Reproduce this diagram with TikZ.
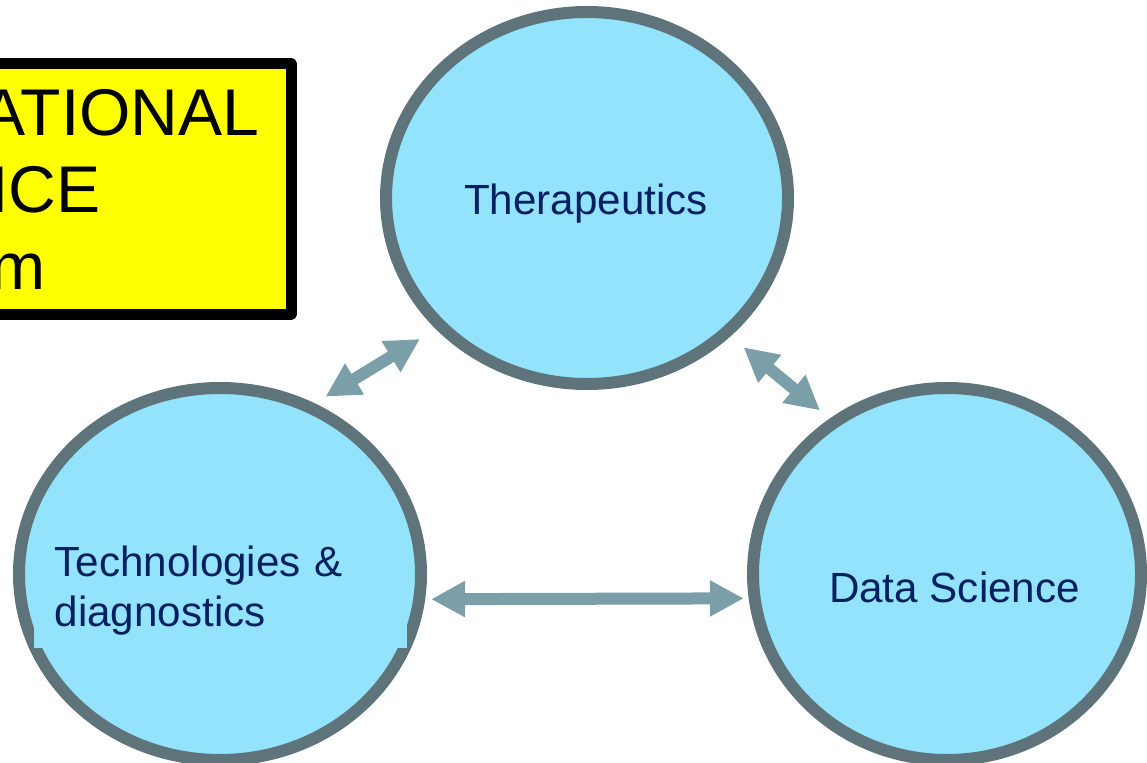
\documentclass[tikz,border=0pt]{standalone}
\usepackage{fontspec}
\setmainfont{Liberation Sans}
\usetikzlibrary{arrows.meta, shapes.geometric}
\definecolor{hubfill}{RGB}{148,227,252}
\definecolor{hubline}{RGB}{94,116,122}
\definecolor{linkcol}{RGB}{123,159,168}
\definecolor{navytext}{RGB}{0,32,96}
\definecolor{bannerfill}{RGB}{255,255,0}

\begin{document}
\begin{tikzpicture}
      \tikzset{hub/.style = {shape=ellipse,draw=hubline,fill=hubfill,line width=0.12cm,inner sep=0pt,minimum height=3.72cm}}
      \tikzset{hubtext/.style = {text=navytext,font=\fontsize{12pt}{14.2pt}\selectfont,inner sep=0pt}}
      \tikzset{link/.style = {{Triangle[length=0.34cm,width=0.34cm]}-{Triangle[length=0.34cm,width=0.34cm]},draw=linkcol,line width=0.12cm}}
      \tikzset{banner/.style = {font=\fontsize{18.8pt}{21.9pt}\selectfont,inner sep=0pt,anchor=base east}}
      \useasboundingbox (0,0) rectangle (11.47,-7.63);

      % banner, cut at the left edge
      \draw[line width=0.11cm,line join=round,fill=bannerfill] (-0.3,-0.635) rectangle (2.91,-3.145);
      \node[banner] (b1) at (2.60,-1.36) {ATIONAL};
      \node[banner] (b2) at (1.01,-2.13) {NCE};
      \node[banner] (b3) at (0.46,-2.90) {m};

      \node[hub,minimum width=4.02cm] (ther) at (5.87,-1.98) {};
      \node[hub,minimum width=4.02cm] (tech) at (2.20,-5.74) {};
      \node[hub,minimum width=3.88cm] (data) at (9.47,-5.74) {};

      \node[hubtext,anchor=base] (therlbl) at (5.86,-2.15) {Therapeutics};
      \node[hubtext,fill=hubfill,text width=3.31cm,align=left,inner xsep=0.21cm,inner ysep=0.13cm,anchor=south west] (techlbl) at (0.33,-6.49) {Technologies \&\\diagnostics};
      \node[hubtext,anchor=base] (datalbl) at (9.545,-6.02) {Data Science};

      \draw[link,shorten <=0.127cm,shorten >=0.187cm] (tech.61.5) to (ther.221.05);
      \draw[link,shorten <=0.17cm,shorten >=0.126cm] (ther.316.7) to (data.127.45);
      \draw[link,shorten <=0.059cm,shorten >=0.048cm] (tech.-7.22) to (data.187.48);
\end{tikzpicture}
\end{document}
